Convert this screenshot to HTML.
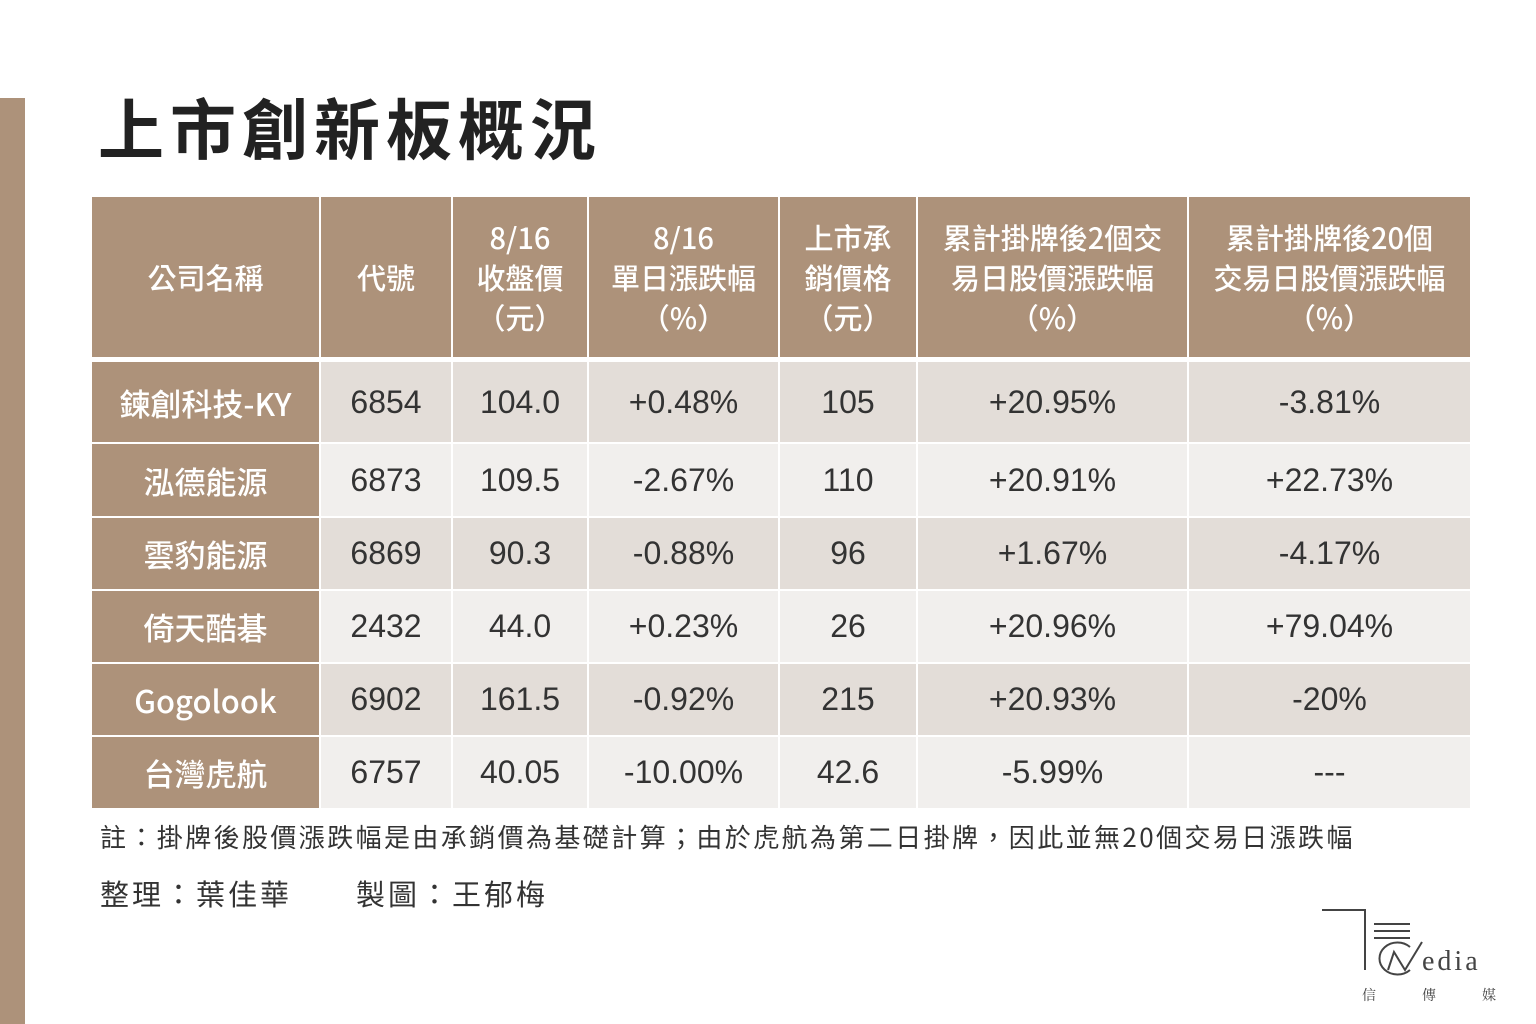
<!DOCTYPE html>
<html><head><meta charset="utf-8"><style>
body{margin:0;width:1536px;height:1024px;background:#fff;position:relative;overflow:hidden;font-family:"Liberation Sans","Noto Sans CJK TC",sans-serif}
.bar{position:absolute;left:0;top:98px;width:25px;height:926px;background:#ad927a}
.t{position:absolute;left:98px;top:78px;font-size:66px;font-weight:bold;color:#222;letter-spacing:6px;font-family:"Noto Sans CJK TC",sans-serif}
.c{position:absolute;display:flex;align-items:center;justify-content:center;text-align:center;box-sizing:border-box}
.h{background:#ad927a;color:#fff;font-size:29px;line-height:40px;font-weight:500;font-family:"Noto Sans CJK TC",sans-serif}
.n{background:#ad927a;color:#fff;font-size:31px;font-weight:500;font-family:"Noto Sans CJK TC",sans-serif}
.d{font-size:32px;color:#333;font-family:"Liberation Sans","Noto Sans CJK TC",sans-serif}
.o{background:#e3ddd8}.e{background:#f1efed}
.note{position:absolute;left:100px;font-size:26px;color:#333;letter-spacing:2.4px;font-family:"Noto Sans CJK TC",sans-serif}
</style></head><body>
<div class="bar"></div>
<div class="t">上市創新板概況</div>
<div id="tb"></div>
<div class="note" style="top:818px">註：掛牌後股價漲跌幅是由承銷價為基礎計算；由於虎航為第二日掛牌，因此並無20個交易日漲跌幅</div>
<div class="note" style="top:872px;font-size:29px;letter-spacing:3px">整理：葉佳華　　製圖：王郁梅</div>
<svg style="position:absolute;left:1310px;top:900px" width="200" height="110">
<g stroke="#444" fill="none" stroke-width="2">
<path d="M12 10 H55 V70"/><path d="M64 24H100M64 31H100M64 38H100"/>
<path d="M100 47 A18 16 0 1 0 100 70"/>
<path d="M78 70 L84 52 L95 70 L112 42"/>
</g>
<text x="112" y="70" font-size="28" fill="#444" font-family="Liberation Serif,serif" letter-spacing="3">edia</text>
<text x="52" y="100" font-size="14" fill="#444" font-family="Noto Serif CJK SC,serif">信</text>
<text x="112" y="100" font-size="14" fill="#444" font-family="Noto Serif CJK SC,serif">傳</text>
<text x="172" y="100" font-size="14" fill="#444" font-family="Noto Serif CJK SC,serif">媒</text>
</svg>
<script>
var cols=[[92,319],[321,451],[453,587],[589,778],[780,916],[918,1187],[1189,1470]];
var hd=["公司名稱","代號","8/16<br>收盤價<br>（元）","8/16<br>單日漲跌幅<br>（%）","上市承<br>銷價格<br>（元）","累計掛牌後2個交<br>易日股價漲跌幅<br>（%）","累計掛牌後20個<br>交易日股價漲跌幅<br>（%）"];
var rows=[[362,442],[444,516],[518,589],[591,662],[664,735],[737,808]];
var data=[["鍊創科技-KY","6854","104.0","+0.48%","105","+20.95%","-3.81%"],
["泓德能源","6873","109.5","-2.67%","110","+20.91%","+22.73%"],
["雲豹能源","6869","90.3","-0.88%","96","+1.67%","-4.17%"],
["倚天酷碁","2432","44.0","+0.23%","26","+20.96%","+79.04%"],
["Gogolook","6902","161.5","-0.92%","215","+20.93%","-20%"],
["台灣虎航","6757","40.05","-10.00%","42.6","-5.99%","---"]];
var h="";
cols.forEach(function(c,i){h+='<div class="c h" style="left:'+c[0]+'px;width:'+(c[1]-c[0])+'px;top:197px;height:160px">'+hd[i]+'</div>';});
rows.forEach(function(r,j){cols.forEach(function(c,i){
var cls=i==0?"n":"d "+(j%2?"e":"o");
h+='<div class="c '+cls+'" style="left:'+c[0]+'px;width:'+(c[1]-c[0])+'px;top:'+r[0]+'px;height:'+(r[1]-r[0])+'px">'+data[j][i]+'</div>';});});
document.getElementById("tb").innerHTML=h;
</script>
</body></html>
